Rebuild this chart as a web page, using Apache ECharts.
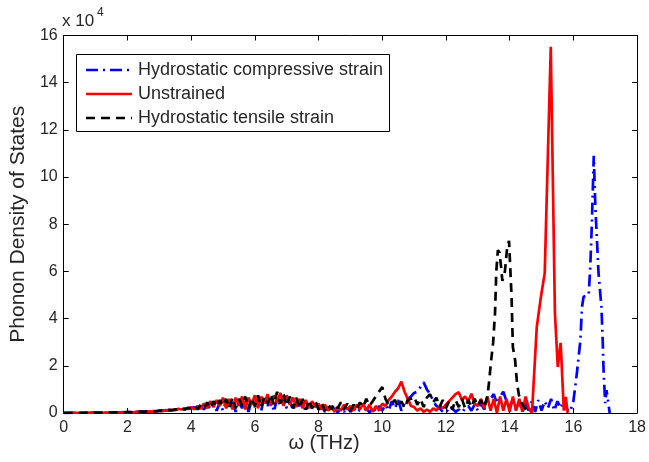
<!DOCTYPE html>
<html><head><meta charset="utf-8">
<script src="https://cdn.jsdelivr.net/npm/echarts@6/dist/echarts.min.js"></script>
<style>html,body{margin:0;padding:0;background:#fff}#c{width:649px;height:462px}</style>
</head><body><div id="c"></div>
<script>
// Uniform frequency grid (THz) used for the low-frequency noisy part of every curve
const freqGrid = [
0.0,0.1,0.2,0.3,0.4,0.5,0.6,0.7,0.8,0.9,
1.0,1.1,1.2,1.3,1.4,1.5,1.6,1.7,1.8,1.9,
2.0,2.1,2.2,2.3,2.4,2.5,2.6,2.7,2.8,2.9,
3.0,3.1,3.2,3.3,3.4,3.5,3.6,3.7,3.8,3.9,
4.0,4.1,4.2,4.3,4.4,4.5,4.6,4.7,4.8,4.9,
5.0,5.1,5.2,5.3,5.4,5.5,5.6,5.7,5.8,5.9,
6.0,6.1,6.2,6.3,6.4,6.5,6.6,6.7,6.8,6.9,
7.0,7.1,7.2,7.3,7.4,7.5,7.6,7.7,7.8,7.9,
8.0,8.1,8.2,8.3,8.4,8.5,8.6,8.7,8.8,8.9,
9.0,9.1,9.2,9.3,9.4,9.5,9.6,9.7,9.8,9.9,
10.0,10.1,10.2,10.3,10.4,10.5,10.6,10.7,10.8,10.9,
11.0,11.1,11.2,11.3,11.4,11.5,11.6,11.7,11.8,11.9,
12.0,12.1,12.2,12.3,12.4,12.5,12.6,12.7,12.8,12.9,
13.0,13.1,13.2,13.3,13.4,13.5,13.6,13.7,13.8,13.9,
14.0,14.1,14.2,14.3,14.4,14.5,14.6,14.7,14.8,14.9,
15.0,15.1,15.2,15.3,15.4,15.5,15.6,15.7,15.8,15.9,
16.0];

// Phonon DOS values in units of 10^4
// Hydrostatic compressive strain (blue): grid part 0.0..16.0
const compGrid = [
0,0.01,0,0.01,0.01,0,0.01,0.01,0.01,0.02,
0.01,0.02,0.01,0.02,0.02,0.03,0.02,0.03,0.03,0.04,
0.03,0.04,0.04,0.05,0.05,0.06,0.06,0.07,0.07,0.09,
0.08,0.1,0.1,0.12,0.12,0.15,0.14,0.17,0.16,0.2,
0.2,0.25,0.12,0.3,0.15,0.35,0.2,0.4,0.1,0.45,
0.1,0.5,0.2,0.55,0.05,0.5,0.2,0.6,0.05,0.55,
0.25,0.65,0.1,0.7,0.3,0.6,0.05,0.65,0.3,0.7,
0.2,0.55,0.1,0.5,0.3,0.45,0.05,0.4,0.2,0.35,
0.1,0.3,0.05,0.25,0.1,0.2,0.02,0.2,0.05,0.25,
0.05,0.2,0.02,0.15,0.1,0.2,0.02,0.25,0.05,0.3,
0.1,0.35,0.1,0.5,0.2,0.55,0.1,0.4,0.6,0.7,
0.85,0.9,1.1,1.3,1.0,0.8,0.5,0.3,0.2,0.05,
0.15,0.02,0.2,0.05,0.15,0.02,0.2,0.3,0.1,0.35,
0.1,0.4,0.15,0.5,0.6,0.8,0.4,0.7,0.9,0.5,
0.2,0.6,0.1,0.5,0.05,0.4,0.1,0.5,0.05,0.55,
0.1,0.5,0.2,0.6,0.1,0.5,0.2,0.55,0.15,0.05,
0.5];
const compPeakFreq = [16.05,16.11,16.22,16.27,16.32,16.48,16.53,16.58,16.61,16.64,16.69,16.74,16.79,16.88,16.92,16.95,17.0,17.04,17.1,17.14];
const compPeakDos  = [0.42,1.69,3.09,4.5,4.93,5.0,6.2,8.04,9.45,10.9,8.74,7.33,5.92,4.5,3.09,1.69,0.42,0.97,0.97,0];

// Unstrained (red): grid part 0.0..14.7
const unstrGrid = [
0,0,0.01,0,0.01,0,0.01,0.01,0,0.01,
0.01,0.01,0.02,0.01,0.02,0.02,0.02,0.03,0.02,0.03,
0.03,0.04,0.03,0.05,0.04,0.06,0.05,0.07,0.06,0.08,
0.1,0.08,0.12,0.1,0.14,0.12,0.18,0.15,0.2,0.17,
0.25,0.15,0.3,0.18,0.4,0.2,0.5,0.25,0.55,0.3,
0.65,0.2,0.6,0.15,0.65,0.3,0.7,0.15,0.65,0.35,
0.75,0.2,0.7,0.4,0.8,0.3,0.75,0.45,0.85,0.3,
0.75,0.35,0.65,0.25,0.6,0.2,0.55,0.2,0.5,0.25,
0.4,0.15,0.35,0.1,0.3,0.05,0.25,0.1,0.35,0.15,
0.3,0.1,0.35,0.15,0.4,0.1,0.35,0.05,0.3,0.1,
0.4,0.3,0.55,0.7,0.9,1.05,1.33,0.9,0.6,0.3,
0.25,0.1,0.2,0.05,0.15,0.05,0.2,0.1,0.3,0.2,
0.35,0.5,0.65,0.8,0.88,0.55,0.7,0.5,0.82,0.4,
0.3,0.6,0.2,0.7,0.1,0.6,0,0.7,0.1,0.6,
0.05,0.7,0.1,0.6,0.05,0.7,0.2,0];
const unstrPeakFreq = [14.85,14.98,15.1,15.29,15.42,15.51,15.6,15.7,15.76,15.82];
const unstrPeakDos  = [3.64,4.92,5.93,15.52,4.24,1.95,2.97,0.1,0.68,0];

// Hydrostatic tensile strain (black): grid part 0.0..13.3
const tensGrid = [
0.01,0,0.01,0.01,0,0.01,0.01,0.02,0.01,0.01,
0.02,0.01,0.02,0.02,0.03,0.02,0.03,0.02,0.04,0.03,
0.05,0.03,0.05,0.04,0.06,0.05,0.07,0.06,0.08,0.07,
0.09,0.11,0.09,0.13,0.11,0.16,0.13,0.19,0.15,0.22,
0.18,0.3,0.15,0.35,0.2,0.45,0.2,0.5,0.25,0.55,
0.3,0.6,0.2,0.65,0.2,0.6,0.3,0.7,0.2,0.65,
0.3,0.75,0.25,0.7,0.4,0.8,0.35,0.9,0.4,0.8,
0.3,0.7,0.2,0.65,0.2,0.6,0.15,0.55,0.2,0.5,
0.15,0.4,0.1,0.35,0.15,0.4,0.2,0.45,0.15,0.4,
0.1,0.35,0.15,0.45,0.25,0.6,0.3,0.5,0.7,0.9,
1.1,0.6,0.35,0.4,0.55,0.25,0.5,0.2,0.55,0.6,
0.7,0.35,0.6,0.25,0.65,0.8,0.45,0.65,0.25,0.55,
0.2,0.5,0.15,0.55,0.25,0.6,0.2,0.55,0.25,0.6,
0.3,0.55,0.25,0.7];
const tensPeakFreq = [13.35,13.42,13.48,13.54,13.58,13.63,13.68,13.73,13.77,13.85,13.92,13.98,14.03,14.06,14.1,14.17,14.23,14.29,14.38,14.48,14.58];
const tensPeakDos  = [1.27,2.25,2.97,4.24,6.0,6.9,6.8,6.2,5.6,6.0,7.0,7.3,7.33,4.9,2.8,2.25,1.27,0.76,0.4,0.2,0];

const seriesNames = ['Hydrostatic compressive strain','Unstrained','Hydrostatic tensile strain'];
const seriesColors = ['#0000ff','#ff0000','#000000'];
const seriesDash = [[12,5,2,5], null, [9,6]];
const xTickValues = [0,2,4,6,8,10,12,14,16,18];
const yTickValues = [0,2,4,6,8,10,12,14,16];

function pairs(grid, peakF, peakV){
  const out = [];
  for (let i = 0; i < grid.length; i++) out.push([freqGrid[i], grid[i]]);
  for (let i = 0; i < peakF.length; i++) out.push([peakF[i], peakV[i]]);
  return out;
}

const FONT = '"Liberation Sans", Arial, sans-serif';
const TXT = '#262626';
const LW = 2.7;
const chart = echarts.init(document.getElementById('c'), null, {renderer:'canvas'});

const axisCommon = {
  axisLine:{show:true, onZero:false, lineStyle:{color:'#000', width:1}},
  axisTick:{show:true, inside:true, length:5, lineStyle:{color:'#000', width:1}},
  splitLine:{show:false}
};

// legend drawn as graphic elements (box, line samples, labels)
const legendG = [{type:'rect', left:76, top:54, z:100,
  shape:{width:313, height:77}, style:{fill:'#fff', stroke:'#000', lineWidth:1}}];
const rowY = [70, 94, 118];
for (let i = 0; i < 3; i++) {
  legendG.push({type:'line', z:101, shape:{x1:86, y1:rowY[i], x2:132, y2:rowY[i]},
    style:{stroke:seriesColors[i], lineWidth:LW, lineDash:seriesDash[i] || null}});
  legendG.push({type:'text', z:101, x:138, y:rowY[i],
    style:{text:seriesNames[i], fontSize:18, fill:TXT, fontFamily:FONT, verticalAlign:'middle', align:'left'}});
}

chart.setOption({
  animation:false,
  backgroundColor:'#fff',
  grid:{left:62.5, right:10.5, top:35.5, bottom:49, containLabel:false},
  xAxis:[
    Object.assign({type:'value', min:xTickValues[0], max:xTickValues[xTickValues.length-1], interval:2, position:'bottom',
      axisLabel:{fontSize:16, color:TXT, fontFamily:FONT, margin:7}}, axisCommon),
    Object.assign({type:'value', min:xTickValues[0], max:xTickValues[xTickValues.length-1], interval:2, position:'top',
      axisLabel:{show:false}}, axisCommon)
  ],
  yAxis:[
    Object.assign({type:'value', min:yTickValues[0], max:yTickValues[yTickValues.length-1], interval:2, position:'left',
      axisLabel:{fontSize:16, color:TXT, fontFamily:FONT, margin:6},
      name:'Phonon Density of States', nameLocation:'middle', nameGap:29,
      nameTextStyle:{fontSize:21, color:TXT, fontFamily:FONT}}, axisCommon),
    Object.assign({type:'value', min:yTickValues[0], max:yTickValues[yTickValues.length-1], interval:2, position:'right',
      axisLabel:{show:false}}, axisCommon)
  ],
  graphic:[
    {type:'text', left:62, top:13, style:{text:'x 10', fontSize:17, fill:TXT, fontFamily:FONT}},
    {type:'text', left:97, top:7, style:{text:'4', fontSize:12, fill:TXT, fontFamily:FONT}},
    {type:'text', x:324, y:443, style:{text:'ω (THz)', fontSize:20, fill:TXT, fontFamily:FONT, align:'center', verticalAlign:'middle'}}
  ].concat(legendG),
  series:[
    {type:'line', name:seriesNames[0], data:pairs(compGrid, compPeakFreq, compPeakDos), symbol:'none',
     lineStyle:{color:seriesColors[0], width:LW, type:seriesDash[0]}, itemStyle:{color:seriesColors[0]}, z:2},
    {type:'line', name:seriesNames[1], data:pairs(unstrGrid, unstrPeakFreq, unstrPeakDos), symbol:'none',
     lineStyle:{color:seriesColors[1], width:LW, type:'solid'}, itemStyle:{color:seriesColors[1]}, z:3},
    {type:'line', name:seriesNames[2], data:pairs(tensGrid, tensPeakFreq, tensPeakDos), symbol:'none',
     lineStyle:{color:seriesColors[2], width:LW, type:seriesDash[2]}, itemStyle:{color:seriesColors[2]}, z:4}
  ]
});
</script>
</body></html>
